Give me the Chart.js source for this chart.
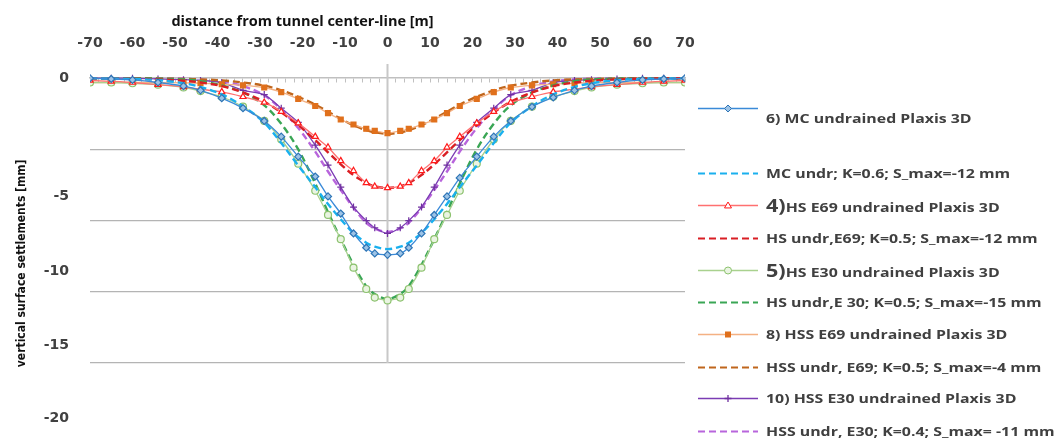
<!DOCTYPE html>
<html>
<head>
<meta charset="utf-8">
<script src="https://cdn.jsdelivr.net/npm/chart.js@4.4.1/dist/chart.umd.min.js"></script>
<style>
  body { margin: 0; background: #fff; }
  #wrap { position: relative; width: 1057px; height: 439px; }
  #legend { position: absolute; left: 0; top: 0; width: 1057px; height: 439px; pointer-events: none; }
  .item { position: absolute; left: 697px; display: flex; align-items: center; transform: translateY(-50%);
          font: bold 12.5px "Open Sans", sans-serif; color: #404040; white-space: nowrap; }
  .item svg { margin-right: 7px; flex: none; }
  .item .txt { display: inline-block; transform: scaleX(1.27); transform-origin: left center; }
  .big { font-size: 17px; }
</style>
</head>
<body>
<div id="wrap">
  <canvas id="chart" width="1057" height="439"></canvas>
  <div id="legend"></div>
</div>
<script>
// distances from the tunnel centre-line [m]
const xNodes = [-70, -65, -60, -54, -48, -44, -39, -34, -29, -25, -21, -17, -14, -11, -8, -5, -3, 0,
                3, 5, 8, 11, 14, 17, 21, 25, 29, 34, 39, 44, 48, 54, 60, 65, 70];

// vertical surface settlements [mm]
const mcPlaxis = [0, -0.05, -0.12, -0.3, -0.55, -0.85, -1.4, -2.1, -3.0, -4.1, -5.5, -6.9, -8.3, -9.5, -10.9, -11.9, -12.3, -12.4,
                  -12.3, -11.9, -10.9, -9.6, -8.3, -7.0, -5.5, -4.1, -3.0, -2.0, -1.35, -0.85, -0.55, -0.3, -0.12, -0.05, 0];
const mcFit = [-0.01, -0.02, -0.05, -0.13, -0.35, -0.61, -1.13, -1.97, -3.12, -4.55, -6.13, -7.65, -8.83, -9.9, -10.87, -11.55, -11.83, -12,
               -11.83, -11.55, -10.87, -9.9, -8.83, -7.65, -6.13, -4.55, -3.12, -1.97, -1.13, -0.61, -0.35, -0.13, -0.05, -0.02, -0.01];
const hsE69Plaxis = [-0.15, -0.22, -0.3, -0.45, -0.6, -0.77, -0.96, -1.3, -1.7, -2.35, -3.15, -4.1, -4.85, -5.8, -6.5, -7.35, -7.6, -7.7,
                     -7.6, -7.35, -6.5, -5.8, -4.85, -4.1, -3.15, -2.35, -1.7, -1.3, -0.96, -0.77, -0.6, -0.45, -0.3, -0.22, -0.15];
const hsE69Fit = [0, -0.01, -0.03, -0.08, -0.18, -0.3, -0.55, -1.0, -1.65, -2.4, -3.3, -4.35, -5.2, -6.05, -6.8, -7.35, -7.6, -7.7,
                  -7.6, -7.35, -6.8, -6.05, -5.2, -4.35, -3.3, -2.4, -1.65, -1.0, -0.55, -0.3, -0.18, -0.08, -0.03, -0.01, 0];
const hsE30Plaxis = [-0.3, -0.3, -0.35, -0.45, -0.65, -0.9, -1.3, -2.0, -3.0, -4.3, -6.0, -7.9, -9.6, -11.3, -13.3, -14.8, -15.4, -15.6,
                     -15.4, -14.8, -13.3, -11.3, -9.6, -7.9, -6.0, -4.3, -3.0, -2.0, -1.3, -0.9, -0.65, -0.45, -0.35, -0.3, -0.3];
const hsE30Fit = [0, 0, -0.01, -0.03, -0.08, -0.2, -0.5, -1.0, -1.9, -3.2, -5.0, -7.4, -9.4, -11.3, -13.1, -14.6, -15.15, -15.5,
                  -15.15, -14.6, -13.1, -11.3, -9.4, -7.4, -5.0, -3.2, -1.9, -1.0, -0.5, -0.2, -0.08, -0.03, -0.01, 0, 0];
const hssE69Plaxis = [-0.3, -0.3, -0.3, -0.3, -0.32, -0.35, -0.42, -0.5, -0.65, -0.98, -1.45, -1.95, -2.45, -2.9, -3.25, -3.55, -3.7, -3.85,
                      -3.7, -3.55, -3.25, -2.9, -2.45, -1.95, -1.45, -0.98, -0.65, -0.5, -0.42, -0.35, -0.32, -0.3, -0.3, -0.3, -0.3];
const hssE69Fit = [0, 0, -0.01, -0.02, -0.05, -0.08, -0.15, -0.3, -0.52, -0.85, -1.3, -1.85, -2.35, -2.85, -3.3, -3.65, -3.8, -3.9,
                   -3.8, -3.65, -3.3, -2.85, -2.35, -1.85, -1.3, -0.85, -0.52, -0.3, -0.15, -0.08, -0.05, -0.02, -0.01, 0, 0];
const hssE30Plaxis = [0, 0, 0, -0.05, -0.1, -0.15, -0.3, -0.85, -1.15, -2.1, -3.1, -4.7, -6.1, -7.65, -9.05, -10.0, -10.5, -10.9,
                      -10.5, -10.0, -9.05, -7.65, -6.1, -4.7, -3.1, -2.1, -1.15, -0.85, -0.3, -0.15, -0.1, -0.05, 0, 0, 0];
const hssE30Fit = [0, 0, 0, 0, -0.03, -0.08, -0.22, -0.55, -1.2, -2.2, -3.5, -5.15, -6.55, -7.85, -9.1, -10.15, -10.55, -10.8,
                   -10.55, -10.15, -9.1, -7.85, -6.55, -5.15, -3.5, -2.2, -1.2, -0.55, -0.22, -0.08, -0.03, 0, 0, 0, 0];

const seriesLabels = [
  '6) MC undrained Plaxis 3D',
  'MC undr; K=0.6; S_max=-12 mm',
  '4)HS E69 undrained Plaxis 3D',
  'HS undr,E69; K=0.5; S_max=-12 mm',
  '5)HS E30 undrained Plaxis 3D',
  'HS undr,E 30; K=0.5; S_max=-15 mm',
  '8) HSS E69 undrained Plaxis 3D',
  'HSS undr, E69; K=0.5; S_max=-4 mm',
  '10) HSS E30 undrained Plaxis 3D',
  'HSS undr, E30; K=0.4; S_max= -11 mm'
];

const xTitle = 'distance from tunnel center-line [m]';
const yTitle = 'vertical surface settlements [mm]';
const xTitleAt = -20;                       // x title is centred above this distance
const yTitleAt = -13;                       // y title is centred beside this settlement
const yGridValues = [-5, -10, -15, -20];
const yTickLabels = ['0', '-5', '-10', '-15', '-20'];
const yTickLabelAt = [0, -8.28, -13.54, -18.74, -23.86];   // where the original prints them
const centreLine = [1, -20];

const pts = (ys) => ys.map((y, i) => ({ x: xNodes[i], y }));

function plaxis(label, data, line, marker, fill, style) {
  return {
    label, data: pts(data), borderColor: line, borderWidth: 1.3,
    pointStyle: style, pointRadius: 3.5, pointBorderColor: marker, pointBackgroundColor: fill,
    pointBorderWidth: 1.2, tension: 0.2
  };
}
function fit(label, data, color) {
  return {
    label, data: pts(data), borderColor: color, borderWidth: 2.4, borderDash: [7, 4],
    pointRadius: 0, tension: 0.35
  };
}

const datasets = [
  plaxis(seriesLabels[0], mcPlaxis, '#3a8ad8', '#2e75b6', '#9dc3e6', 'rectRot'),
  fit(seriesLabels[1], mcFit, '#1ab0ee'),
  plaxis(seriesLabels[2], hsE69Plaxis, '#ff7070', '#ff1a1a', '#ffffff', 'triangle'),
  fit(seriesLabels[3], hsE69Fit, '#d91e24'),
  plaxis(seriesLabels[4], hsE30Plaxis, '#a9d18e', '#8cc26e', '#eaf4e2', 'circle'),
  fit(seriesLabels[5], hsE30Fit, '#3aa655'),
  plaxis(seriesLabels[6], hssE69Plaxis, '#f4b183', '#e0701c', '#e0701c', 'rect'),
  fit(seriesLabels[7], hssE69Fit, '#c0661c'),
  plaxis(seriesLabels[8], hssE30Plaxis, '#7b3cb4', '#7030a0', '#7030a0', 'cross'),
  fit(seriesLabels[9], hssE30Fit, '#b865dc'),
  {
    label: '', data: centreLine.map(y => ({ x: 0, y })), borderColor: '#c8c8c8', borderWidth: 2,
    pointRadius: 0, inLegend: false
  }
];

const tickFont = { family: '"DejaVu Sans", sans-serif', size: 14, weight: 'bold' };

const titlesPlugin = {
  id: 'axisTitles',
  afterDraw(chart) {
    const { ctx, scales, chartArea } = chart;
    ctx.save();
    ctx.fillStyle = '#111';
    ctx.textAlign = 'center';
    ctx.textBaseline = 'middle';
    ctx.font = 'bold 14.5px "Open Sans", sans-serif';
    ctx.fillText(xTitle, scales.x.getPixelForValue(xTitleAt), chartArea.top - 42);
    ctx.font = 'bold 12px "DejaVu Sans Condensed", "DejaVu Sans", sans-serif';
    ctx.translate(22, scales.y.getPixelForValue(yTitleAt));
    ctx.rotate(-Math.PI / 2);
    ctx.fillText(yTitle, 0, 0);
    ctx.restore();
  }
};

// the label axis must not push the plot area in
const noEndPadding = (a) => { a.paddingTop = 0; a.paddingBottom = 0; };

const chart = new Chart(document.getElementById('chart'), {
  type: 'line',
  data: { datasets },
  options: {
    responsive: false,
    animation: false,
    layout: { padding: { top: 34, bottom: 9, left: 15, right: 372 } },
    plugins: { legend: { display: false }, tooltip: { enabled: false } },
    scales: {
      x: {
        type: 'linear', position: 'top', min: -70, max: 70,
        ticks: { stepSize: 10, autoSkip: false, maxRotation: 0, padding: 4, color: '#404040', font: tickFont },
        grid: { display: false }, border: { display: false },
        afterFit: (a) => { a.height = 30; }
      },
      x0: {
        type: 'linear', position: { y: 0 }, min: -70, max: 70,
        ticks: { display: false, stepSize: 2, autoSkip: false },
        grid: { drawOnChartArea: false, drawTicks: true, tickLength: 4, color: '#c0c0c0' },
        border: { color: '#c0c0c0', width: 1.5 },
        afterFit: (a) => { a.height = 0; a.paddingLeft = 0; a.paddingRight = 0; }
      },
      y: {
        type: 'linear', min: -24.7, max: 1,
        afterBuildTicks: (a) => { a.ticks = yGridValues.map(value => ({ value })); },
        ticks: { display: false },
        grid: { color: '#b4b4b4', lineWidth: 1.3, drawTicks: false },
        border: { display: false },
        afterFit: (a) => { a.width = 0; noEndPadding(a); }
      },
      yl: {
        type: 'linear', position: 'left', min: -24.7, max: 1,
        afterBuildTicks: (a) => { a.ticks = yTickLabelAt.map(value => ({ value })); },
        ticks: { autoSkip: false, padding: 13, color: '#404040', font: tickFont,
                 callback: (v, i) => yTickLabels[i] },
        grid: { display: false }, border: { display: false },
        afterFit: (a) => { a.width = 75; noEndPadding(a); }
      }
    }
  },
  plugins: [titlesPlugin]
});

// legend built from the datasets, laid out like the original
const legendRowY = [108, 173, 205, 238, 270, 302, 334, 367, 398, 431];

function markerSvg(style, stroke, fill) {
  const c = 31, m = 7, r = 3.5;
  if (style === 'rectRot') return `<polygon points="${c},${m - r} ${c + r},${m} ${c},${m + r} ${c - r},${m}" fill="${fill}" stroke="${stroke}"/>`;
  if (style === 'triangle') return `<polygon points="${c},${m - r} ${c + r},${m + r * 0.7} ${c - r},${m + r * 0.7}" fill="${fill}" stroke="${stroke}"/>`;
  if (style === 'circle') return `<circle cx="${c}" cy="${m}" r="${r}" fill="${fill}" stroke="${stroke}"/>`;
  if (style === 'rect') return `<rect x="${c - 2.5}" y="${m - 2.5}" width="5" height="5" fill="${fill}" stroke="${stroke}"/>`;
  if (style === 'cross') return `<path d="M${c - r} ${m}H${c + r}M${c} ${m - r}V${m + r}" stroke="${stroke}" stroke-width="1.3"/>`;
  return '';
}

const legend = document.getElementById('legend');
datasets.filter(d => d.inLegend !== false).forEach((d, i) => {
  const dash = d.borderDash ? `stroke-dasharray="${d.borderDash.join(' ')}"` : '';
  const svg = `<svg width="62" height="14"><line x1="1" y1="7" x2="61" y2="7" stroke="${d.borderColor}" stroke-width="${d.borderDash ? 2.2 : 1.4}" ${dash}/>` +
              (d.pointRadius ? markerSvg(d.pointStyle, d.pointBorderColor, d.pointBackgroundColor) : '') + '</svg>';
  // labels like "4)HS ..." print their number larger
  const text = d.label.replace(/^(\d+\))(?=\S)/, '<span class="big">$1</span>');
  const row = document.createElement('div');
  row.className = 'item';
  row.style.top = legendRowY[i] + 'px';
  row.innerHTML = svg + `<span class="txt" style="${i === 0 ? 'position:relative;top:10px' : ''}">${text}</span>`;
  legend.appendChild(row);
});
</script>
</body>
</html>
